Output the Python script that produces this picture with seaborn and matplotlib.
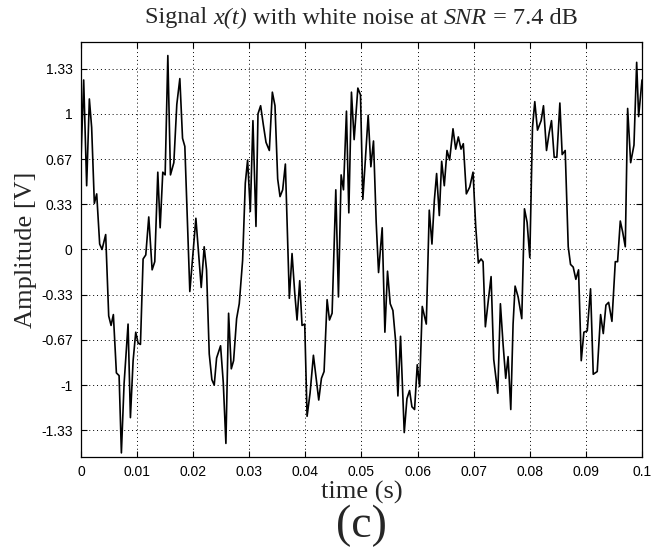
import numpy as np
import pandas as pd
import seaborn as sns
import matplotlib.pyplot as plt

# noisy signal (time in ms, amplitude in V)
time_ms = [0.00, 0.48, 1.01, 1.49, 1.90, 2.38, 2.80, 3.33, 3.75, 4.40,
           4.94, 5.36, 5.77, 6.31, 6.79, 7.20, 7.68, 8.39, 8.81, 9.29,
           9.76, 10.18, 10.60, 11.07, 11.55, 12.08, 12.68, 13.15, 13.69, 14.11,
           14.58, 15.00, 15.48, 15.95, 16.55, 17.08, 17.62, 18.10, 18.51, 19.40,
           20.48, 21.43, 21.96, 22.38, 22.86, 23.33, 23.75, 24.17, 24.88, 25.36,
           25.83, 26.31, 26.79, 27.20, 27.74, 28.21, 28.81, 29.29, 29.70, 30.18,
           30.65, 31.19, 31.55, 32.02, 32.50, 32.98, 33.57, 34.11, 34.58, 35.06,
           35.48, 35.95, 36.43, 37.14, 37.62, 38.10, 38.51, 38.99, 39.40, 39.88,
           40.30, 40.83, 41.43, 41.90, 42.38, 42.86, 43.33, 43.87, 44.29, 44.76,
           45.42, 45.89, 46.37, 46.79, 47.32, 47.74, 48.21, 48.69, 49.35, 49.82,
           50.24, 50.71, 51.19, 51.67, 52.14, 52.62, 53.04, 53.69, 54.17, 54.64,
           55.12, 55.60, 56.07, 56.49, 56.96, 57.62, 58.10, 58.57, 58.99, 59.46,
           59.94, 60.36, 60.83, 61.55, 62.08, 62.56, 62.98, 63.39, 63.87, 64.29,
           64.76, 65.24, 65.71, 66.31, 66.79, 67.26, 67.74, 68.15, 68.69, 69.29,
           69.88, 70.36, 70.83, 71.31, 71.67, 72.08, 72.62, 73.10, 73.57, 74.29,
           74.76, 75.24, 75.71, 76.13, 76.61, 77.02, 77.38, 77.92, 78.57, 79.05,
           79.52, 80.00, 80.48, 80.89, 81.37, 82.02, 82.44, 82.98, 83.45, 83.87,
           84.35, 84.82, 85.36, 85.77, 86.31, 86.85, 87.26, 87.74, 88.21, 88.69,
           89.17, 89.64, 90.24, 90.83, 91.31, 92.02, 92.62, 93.10, 93.57, 94.05,
           94.64, 95.24, 95.65, 96.13, 96.55, 97.02, 97.44, 97.98, 98.57, 99.05,
           99.40, 100.00]
amplitude = [0.66, 1.25, 0.47, 1.11, 0.90, 0.34, 0.41, 0.04, 0.00, 0.11,
             -0.49, -0.56, -0.48, -0.91, -0.93, -1.50, -0.99, -0.55, -1.24, -0.82,
             -0.61, -0.69, -0.70, -0.07, -0.04, 0.24, -0.15, -0.09, 0.57, 0.16,
             0.57, 0.55, 1.43, 0.55, 0.64, 1.07, 1.26, 0.82, 0.76, -0.31,
             0.23, -0.28, 0.02, -0.15, -0.77, -0.96, -1.00, -0.80, -0.71, -0.98,
             -1.43, -0.47, -0.88, -0.82, -0.51, -0.40, -0.08, 0.49, 0.66, 0.28,
             0.95, 0.17, 1.00, 1.06, 0.92, 0.79, 0.73, 1.16, 1.06, 0.52,
             0.39, 0.44, 0.63, -0.36, -0.03, -0.32, -0.52, -0.23, -0.56, -0.55,
             -1.23, -1.06, -0.78, -0.94, -1.11, -0.95, -0.90, -0.37, -0.52, -0.47,
             0.44, -0.35, 0.55, 0.44, 1.02, 0.27, 1.16, 0.81, 1.19, 1.14,
             0.37, 0.68, 0.99, 0.61, 0.80, 0.20, -0.17, 0.16, -0.61, -0.16,
             -0.40, -0.45, -0.67, -1.08, -0.64, -1.35, -1.10, -1.04, -1.16, -1.18,
             -0.85, -1.01, -0.42, -0.55, 0.29, 0.04, 0.36, 0.56, 0.25, 0.65,
             0.47, 0.73, 0.66, 0.89, 0.74, 0.83, 0.74, 0.78, 0.41, 0.46,
             0.57, 0.17, -0.10, -0.07, -0.09, -0.57, -0.37, -0.20, -0.81, -1.06,
             -0.40, -0.70, -0.95, -0.79, -1.18, -0.55, -0.27, -0.35, -0.51, 0.30,
             0.20, -0.06, 0.90, 1.09, 0.88, 0.95, 1.06, 0.73, 0.86, 0.95,
             0.68, 0.68, 1.08, 0.70, 0.73, 0.02, -0.11, -0.13, -0.22, -0.15,
             -0.82, -0.61, -0.60, -0.29, -0.92, -0.90, -0.48, -0.62, -0.41, -0.39,
             -0.53, -0.09, -0.09, 0.21, 0.13, 0.02, 1.04, 0.64, 0.77, 1.38,
             0.98, 1.25]

xticks = [0, 0.01, 0.02, 0.03, 0.04, 0.05, 0.06, 0.07, 0.08, 0.09, 0.1]
xtick_labels = ["0", "0.01", "0.02", "0.03", "0.04", "0.05", "0.06", "0.07", "0.08", "0.09", "0.1"]
yticks = [-4/3, -1, -2/3, -1/3, 0, 1/3, 2/3, 1, 4/3]
ytick_labels = ["-1.33", "-1", "-0.67", "-0.33", "0", "0.33", "0.67", "1", "1.33"]

# title pieces: (text, style)
title_parts = [("Signal ", "normal"), ("x(t)", "italic"), (" with white noise at ", "normal"),
               ("SNR", "italic"), (" = 7.4 dB", "normal")]

df = pd.DataFrame({"time": np.array(time_ms) / 1000.0, "amp": amplitude})

sns.set_style("ticks")
plt.rcParams["font.family"] = ["Liberation Sans", "DejaVu Sans"]

fig = plt.figure(figsize=(6.59, 5.59), dpi=100)
ax = fig.add_axes([0.1229, 0.1825, 0.8513, 0.7424])

sns.lineplot(data=df, x="time", y="amp", ax=ax, color="black", linewidth=1.2)

ax.set_xlim(0, 0.1)
ax.set_ylim(-1.53, 1.53)
ax.set_xticks(xticks)
ax.set_xticklabels(xtick_labels)
ax.set_yticks(yticks)
ax.set_yticklabels(ytick_labels)
ax.tick_params(direction="in", top=True, right=True, length=4, width=0.8,
               labelsize=10, colors="black", pad=6)
ax.grid(True, color="black", linestyle=(0, (1, 3)), linewidth=0.7)
for s in ax.spines.values():
    s.set_color("black")
    s.set_linewidth(0.9)

serif = ["Liberation Serif", "DejaVu Serif"]
ax.set_xlabel("time (s)", fontsize=19, family=serif, labelpad=1)
ax.set_ylabel("Amplitude [V]", fontsize=19, family=serif, labelpad=3)
fig.text(0.549, 1 - 526 / 559, "(c)", fontsize=33, family=serif,
         ha="center", va="center")

# title built from pieces so x(t) and SNR are fully italic
renderer = fig.canvas.get_renderer()
texts = []
for txt, style in title_parts:
    texts.append(fig.text(0, 1 - 18 / 559, txt, fontsize=17.5, family=serif,
                          style=style, ha="left", va="center"))
widths = [t.get_window_extent(renderer).width for t in texts]
x0 = (0.1229 + 0.8513 / 2) * fig.bbox.width - sum(widths) / 2
for t, w in zip(texts, widths):
    t.set_x(x0 / fig.bbox.width)
    x0 += w

plt.savefig("out.png", dpi=100)
